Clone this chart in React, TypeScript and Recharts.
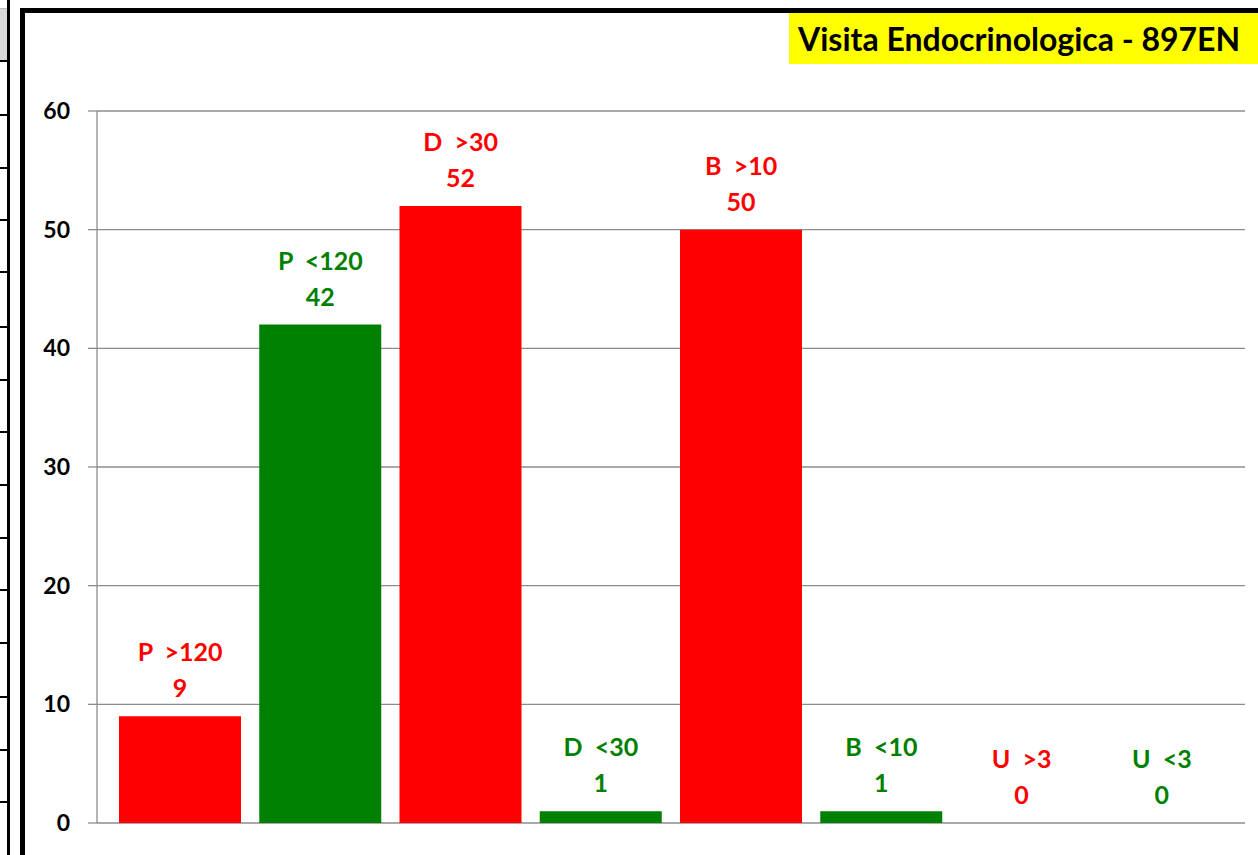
import React from "react";
import { ComposedChart, Bar, Line, XAxis, YAxis, CartesianGrid, Cell, LabelList } from "recharts";

const categories = ["P  >120", "P  <120", "D  >30", "D  <30", "B  >10", "B  <10", "U  >3", "U  <3"];
const values = [9, 42, 52, 1, 50, 1, 0, 0];
const barColors = ["#FF0000", "#008000", "#FF0000", "#008000", "#FF0000", "#008000", "#FF0000", "#008000"];
const yTicks = [0, 10, 20, 30, 40, 50, 60];
const title = "Visita Endocrinologica - 897EN";
const tableRows = [61, 115, 168, 220, 272, 327, 380, 432, 485, 538, 590, 643, 697, 750, 802];

const data = categories.map((name, i) => ({ name, value: values[i], color: barColors[i] }));

const FONT = "Lato, 'Open Sans', sans-serif";

const renderLabel = (props: any) => {
  const { x, y, index } = props;
  const d = data[index];
  return (
    <g>
      <text x={x} y={y - 55} textAnchor="middle" fill={d.color} fontFamily={FONT} fontWeight={700} fontSize={25} style={{ whiteSpace: "pre" }}>
        {d.name}
      </text>
      <text x={x} y={y - 19} textAnchor="middle" fill={d.color} fontFamily={FONT} fontWeight={700} fontSize={25}>
        {d.value}
      </text>
    </g>
  );
};

export default function App() {
  return (
    <div style={{ position: "absolute", left: 0, top: 0, width: 1258, height: 855, overflow: "hidden", background: "#fff" }}>
      <div style={{ position: "absolute", left: 0, top: 9, width: 8, height: 52, background: "#d9d9d9" }} />
      <div style={{ position: "absolute", left: 0, top: 8, width: 9, height: 1, background: "#bbb" }} />
      <div style={{ position: "absolute", left: 7, top: 0, width: 3, height: 855, background: "#000" }} />
      {tableRows.map((r) => (
        <div key={r} style={{ position: "absolute", left: 0, top: r - 1, width: 8, height: 2, background: "#000" }} />
      ))}
      <div style={{ position: "absolute", left: 20, top: 8, width: 1300, height: 842, border: "5px solid #000", boxSizing: "content-box" }} />
      <div style={{ position: "absolute", left: 789, top: 13, width: 469, height: 51, background: "#FFFF00", whiteSpace: "nowrap", fontFamily: FONT, fontWeight: 700, fontSize: 32, color: "#000", lineHeight: "51px", paddingLeft: 9, boxSizing: "border-box" }}>
        {title}
      </div>
      <div style={{ position: "absolute", left: 0, top: 0 }}>
        <ComposedChart width={1258} height={855} data={data} margin={{ top: 111, right: 13, bottom: 32, left: 37 }}>
          <CartesianGrid vertical={false} stroke="#8c8c8c" strokeWidth={1.3} />
          <XAxis dataKey="name" hide padding={{ left: 13, right: 13 }} />
          <YAxis
            domain={[0, 60]}
            ticks={yTicks}
            width={60}
            tickSize={9}
            tickMargin={18}
            axisLine={{ stroke: "#8c8c8c", strokeWidth: 1.3 }}
            tickLine={{ stroke: "#8c8c8c", strokeWidth: 1.3 }}
            tick={{ fill: "#000", fontFamily: FONT, fontWeight: 700, fontSize: 23 }}
            interval={0}
          />
          <Bar dataKey="value" barSize={122} isAnimationActive={false}>
            {data.map((d, i) => (
              <Cell key={i} fill={d.color} />
            ))}
          </Bar>
          <Line dataKey="value" stroke="none" dot={false} activeDot={false} isAnimationActive={false}>
            <LabelList dataKey="value" content={renderLabel} />
          </Line>
        </ComposedChart>
      </div>
    </div>
  );
}
